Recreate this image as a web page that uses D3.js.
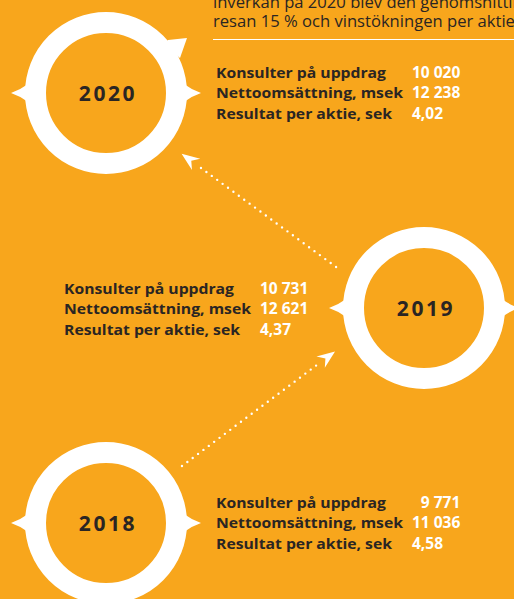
<!DOCTYPE html>
<html>
<head>
<meta charset="utf-8">
<script src="https://cdn.jsdelivr.net/npm/d3@7"></script>
<style>
  html, body { margin: 0; padding: 0; background: #f8a61c; overflow: hidden; }
  svg { display: block; }
</style>
</head>
<body>
<div id="chart"></div>
<script>
// data
var years = [2018, 2019, 2020];
var rowLabels = ["Konsulter på uppdrag", "Nettoomsättning, msek", "Resultat per aktie, sek"];
var consultants = [9771, 10731, 10020];
var revenue = [11036, 12621, 12238];
var eps = [4.58, 4.37, 4.02];
var introLines = [
  "inverkan på 2020 blev den genomsnittliga",
  "resan 15 % och vinstökningen per aktie"
];

var W = 514, H = 599;
var bg = "#f8a61c", dark = "#2a2523";
// rendered widths of the row labels (the original face is wider than Open Sans)
var labelFit = [170, 187, 176];

var sv = d3.formatLocale({decimal: ",", thousands: " ", grouping: [3], currency: ["", " kr"]});
var fmtInt = sv.format("\u2007>6,");
var fmtDec = sv.format(",.2f");

var svg = d3.select("#chart").append("svg")
  .attr("width", W)
  .attr("height", H);

svg.append("rect").attr("width", W).attr("height", H).attr("fill", bg);

// year -> position
var y = d3.scaleLinear().domain([2018, 2020]).range([523, 93]);
var x = d3.scaleOrdinal().domain(years).range([106, 424, 106]);
var side = d3.scaleOrdinal().domain(years).range([1, -1, 1]);

var R = 70.5, ringW = 21;

// intro text + rule
svg.selectAll(".intro")
  .data(introLines)
  .enter().append("text")
    .attr("class", "intro")
    .attr("x", 213)
    .attr("y", function(d, i) { return 8 + i * 19; })
    .attr("fill", dark)
    .attr("font-family", "'Open Sans', sans-serif")
    .attr("font-size", "16.6px")
    .text(function(d) { return d; });

svg.append("line")
  .attr("x1", 213).attr("x2", W)
  .attr("y1", 39.5).attr("y2", 39.5)
  .attr("stroke", "#fff")
  .attr("stroke-width", 1);

// connectors (dotted with dart heads)
function polar(year, r, deg) {
  var a = deg * Math.PI / 180;
  return [x(year) + r * Math.cos(a), y(year) + r * Math.sin(a)];
}

var links = [
  {from: 2018, to: 2019, a0: -36.9, r0: 95, a1: 154, r1: 99},
  {from: 2019, to: 2020, a0: 205, r0: 97, a1: 38.8, r1: 97}
];

links.forEach(function(l) {
  var s = polar(l.from, l.r0, l.a0);
  var t = polar(l.to, l.r1, l.a1);
  var dx = t[0] - s[0], dy = t[1] - s[1];
  var len = Math.sqrt(dx * dx + dy * dy);
  var ux = dx / len, uy = dy / len;
  var nx = -uy, ny = ux;

  svg.append("line")
    .attr("x1", s[0]).attr("y1", s[1])
    .attr("x2", t[0] - 19 * ux).attr("y2", t[1] - 19 * uy)
    .attr("stroke", "#fff")
    .attr("stroke-width", 2.4)
    .attr("stroke-linecap", "round")
    .attr("stroke-dasharray", "0 6.7");

  var p = d3.path();
  p.moveTo(t[0], t[1]);
  p.lineTo(t[0] - 18 * ux + 7 * nx, t[1] - 18 * uy + 7 * ny);
  p.lineTo(t[0] - 12 * ux, t[1] - 12 * uy);
  p.lineTo(t[0] - 18 * ux - 7 * nx, t[1] - 18 * uy - 7 * ny);
  p.closePath();
  svg.append("path").attr("d", p.toString()).attr("fill", "#fff");
});

// rings
var g = svg.selectAll(".year")
  .data(years)
  .enter().append("g")
    .attr("class", "year")
    .attr("transform", function(d) { return "translate(" + x(d) + "," + y(d) + ")"; });

g.append("circle")
  .attr("r", R)
  .attr("fill", "none")
  .attr("stroke", "#fff")
  .attr("stroke-width", ringW);

// side points of each ring
[-1, 1].forEach(function(s) {
  g.append("path")
    .attr("fill", "#fff")
    .attr("d", function() {
      var p = d3.path();
      p.moveTo(s * 78, -9);
      p.quadraticCurveTo(s * 86, -3, s * 95, 0);
      p.quadraticCurveTo(s * 86, 3, s * 78, 9);
      p.closePath();
      return p.toString();
    });
});

// barb on the 2020 ring
g.filter(function(d) { return d === 2020; })
  .append("path")
    .attr("fill", "#fff")
    .attr("d", "M60,-50L62,-53L81,-55L74,-35L68,-40Z");

g.append("text")
  .attr("text-anchor", "middle")
  .attr("x", 2)
  .attr("y", 8)
  .attr("fill", dark)
  .attr("font-family", "'Open Sans', sans-serif")
  .attr("font-weight", 700)
  .attr("font-size", "21px")
  .attr("letter-spacing", "2.6px")
  .text(function(d) { return d; });

// key figures next to each ring
var rowsFor = function(d, i) {
  return [consultants[i], revenue[i], eps[i]].map(function(v, j) {
    return {label: rowLabels[j], value: j < 2 ? fmtInt(v) : fmtDec(v), row: j};
  });
};

var blocks = g.append("g")
  .attr("transform", function(d) { return side(d) > 0 ? "translate(110,-15)" : "translate(-360,-14)"; });

var rows = blocks.selectAll(".row")
  .data(function(d) { return rowsFor(d, years.indexOf(d)); })
  .enter().append("g")
    .attr("class", "row")
    .attr("transform", function(d) { return "translate(0," + (d.row * 20.3) + ")"; });

rows.append("text")
  .attr("fill", dark)
  .attr("font-family", "'Open Sans', sans-serif")
  .attr("font-weight", 700)
  .attr("font-size", "15px")
  .attr("textLength", function(d) { return labelFit[d.row]; })
  .attr("lengthAdjust", "spacingAndGlyphs")
  .text(function(d) { return d.label; });

rows.append("text")
  .attr("x", 196)
  .attr("fill", "#fff")
  .attr("font-family", "'Open Sans', sans-serif")
  .attr("font-weight", 700)
  .attr("font-size", "15.5px")
  .text(function(d) { return d.value; });
</script>
</body>
</html>
